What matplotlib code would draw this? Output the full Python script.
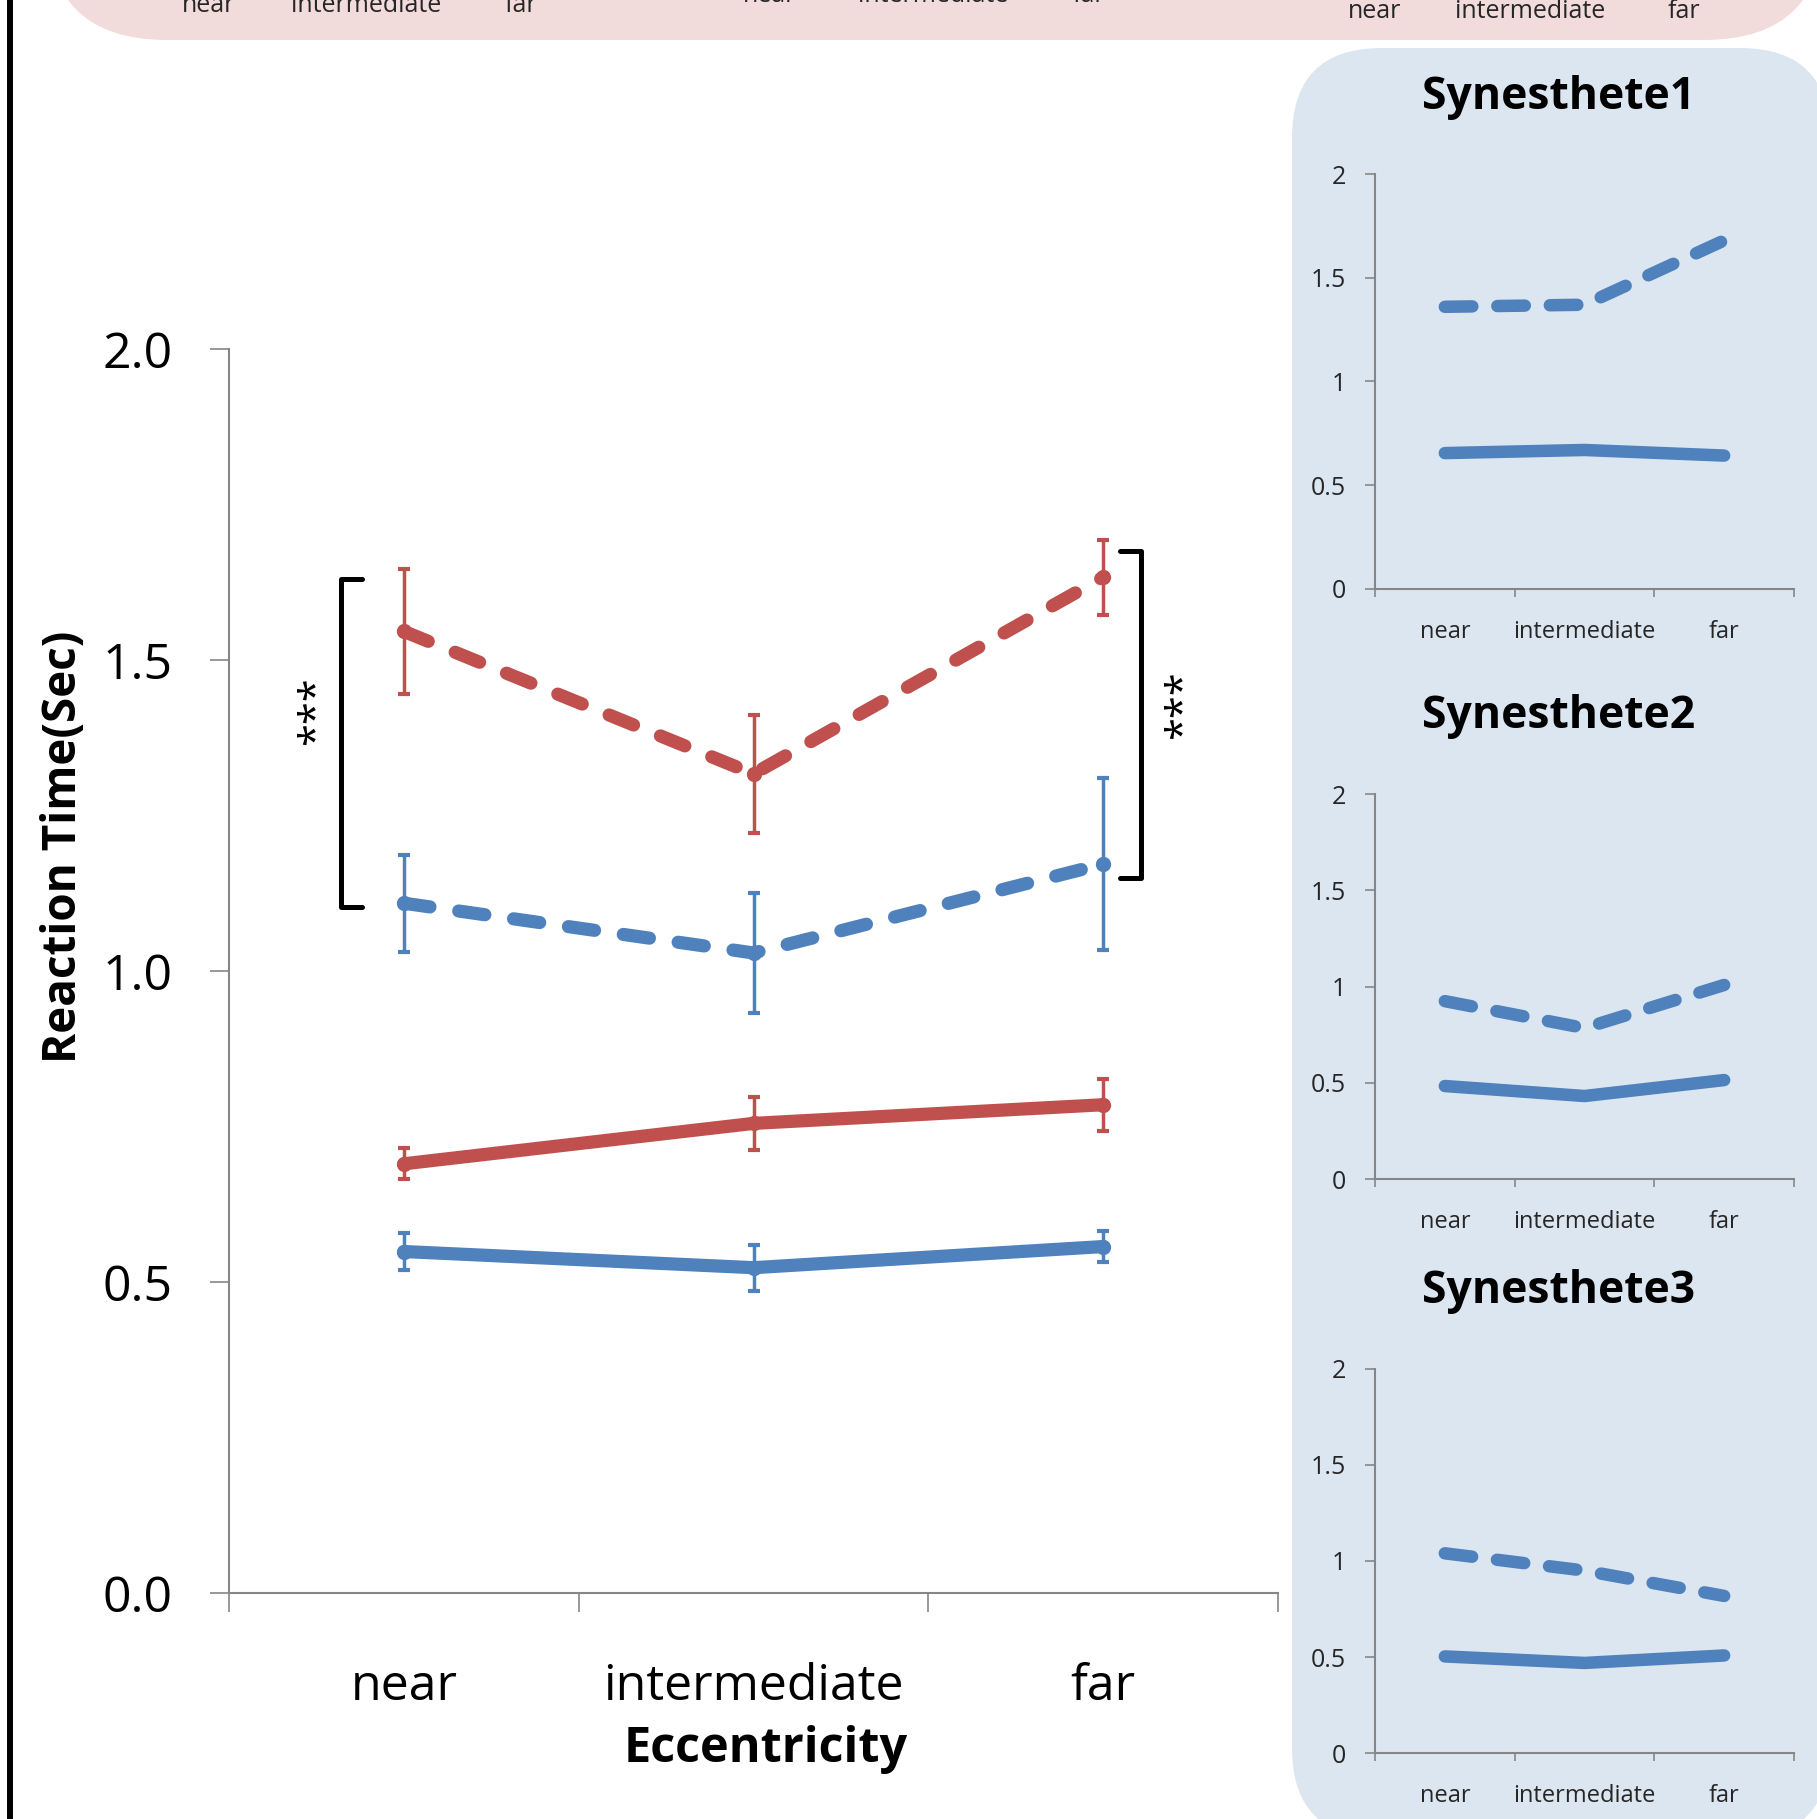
import matplotlib.pyplot as plt
from matplotlib.patches import FancyBboxPatch

plt.rcParams['font.family'] = ['Open Sans', 'DejaVu Sans']

W, H = 1817, 1819

categories = ['near', 'intermediate', 'far']

# main chart: reaction time (sec) with error bars
red_dash = [1.546, 1.317, 1.633]
red_dash_err = [0.100, 0.095, 0.060]
blue_dash = [1.109, 1.029, 1.172]
blue_dash_err = [0.078, 0.096, 0.139]
red_solid = [0.690, 0.755, 0.785]
red_solid_err = [0.025, 0.042, 0.042]
blue_solid = [0.549, 0.523, 0.557]
blue_solid_err = [0.030, 0.037, 0.025]

# individual synesthetes
syn_titles = ['Synesthete1', 'Synesthete2', 'Synesthete3']
syn_dash = [[1.36, 1.37, 1.68], [0.924, 0.784, 1.008], [1.04, 0.95, 0.818]]
syn_solid = [[0.655, 0.67, 0.643], [0.483, 0.431, 0.514], [0.503, 0.469, 0.508]]

main_ticks = [0.0, 0.5, 1.0, 1.5, 2.0]
main_ticklabels = ['0.0', '0.5', '1.0', '1.5', '2.0']
small_ticks = [0, 0.5, 1, 1.5, 2]
small_ticklabels = ['0', '0.5', '1', '1.5', '2']

RED = '#C0504D'
BLUE = '#4F81BD'
GRAY = '#868686'
PINK = '#F2DCDB'
LIGHTBLUE = '#DCE6F1'


def box(x0, y0, x1, y1):
	return [x0 / W, 1 - y1 / H, (x1 - x0) / W, (y1 - y0) / H]


fig = plt.figure(figsize=(W / 100, H / 100), dpi=100)

# background layer in pixel coordinates
bg = fig.add_axes([0, 0, 1, 1])
bg.set_xlim(0, W)
bg.set_ylim(H, 0)
bg.axis('off')
bg.set_zorder(-1)

bg.add_patch(FancyBboxPatch((46, -400), 1825 - 46, 440,
                            boxstyle='round,pad=0,rounding_size=121',
                            fc=PINK, ec='none'))
bg.add_patch(FancyBboxPatch((1292, 48), 1830 - 1292, 1838 - 48,
                            boxstyle='round,pad=0,rounding_size=90',
                            fc=LIGHTBLUE, ec='none'))
bg.plot([10, 10], [0, H], color='black', lw=4.3, solid_capstyle='butt')

# cut-off labels of the panel above
top_labels = [(209, 12), (366, 12), (521, 12),
              (770, 2), (933, 2), (1089, 2),
              (1375, 18), (1530, 18), (1684, 18)]
for i, (x, y) in enumerate(top_labels):
	bg.text(x, y, categories[i % 3], ha='center', va='baseline',
	        fontsize=18, color='#262626')

# ---- main chart ----
ax = fig.add_axes(box(229, 349, 1278, 1593))
ax.set_facecolor('none')
xs = range(len(categories))

err_kw = dict(fmt='none', elinewidth=2.5, capsize=4.5, capthick=3, zorder=2)
line_kw = dict(lw=9.5, marker='o', ms=10, zorder=3,
               solid_capstyle='round', dash_capstyle='round')
ax.errorbar(xs, red_dash, yerr=red_dash_err, ecolor=RED, **err_kw)
ax.errorbar(xs, blue_dash, yerr=blue_dash_err, ecolor=BLUE, **err_kw)
ax.errorbar(xs, red_solid, yerr=red_solid_err, ecolor=RED, **err_kw)
ax.errorbar(xs, blue_solid, yerr=blue_solid_err, ecolor=BLUE, **err_kw)
ax.plot(xs, red_dash, color=RED, dashes=(2.0, 2.2), **line_kw)
ax.plot(xs, blue_dash, color=BLUE, dashes=(2.0, 2.2), **line_kw)
ax.plot(xs, red_solid, color=RED, **line_kw)
ax.plot(xs, blue_solid, color=BLUE, **line_kw)

ax.set_xlim(-0.5, 2.5)
ax.set_ylim(0, 2.0)
ax.set_yticks(main_ticks)
ax.set_yticklabels(main_ticklabels)
ax.set_xticks([-0.5, 0.5, 1.5, 2.5])
ax.set_xticklabels([])
ax.set_xticks(list(xs), minor=True)
ax.set_xticklabels(categories, minor=True)
ax.tick_params(axis='y', length=13.7, width=1.2, color=GRAY, pad=27,
               labelsize=36)
ax.tick_params(axis='x', which='major', length=13.7, width=1.2, color=GRAY)
ax.tick_params(axis='x', which='minor', length=0, pad=50, labelsize=36)
for s in ['top', 'right']:
	ax.spines[s].set_visible(False)
for s in ['left', 'bottom']:
	ax.spines[s].set_color(GRAY)
	ax.spines[s].set_linewidth(1.5)

# significance brackets
br_kw = dict(color='black', lw=3.6, clip_on=False, solid_joinstyle='round',
             solid_capstyle='round')
ax.plot([-0.120, -0.180, -0.180, -0.120], [1.630, 1.630, 1.103, 1.103], **br_kw)
ax.plot([2.048, 2.108, 2.108, 2.048], [1.675, 1.675, 1.150, 1.150], **br_kw)
ax.text(-0.250, 1.418, '***', rotation=90, ha='center', va='center',
        fontsize=30)
ax.text(2.230, 1.428, '***', rotation=90, ha='center', va='center',
        fontsize=30)

fig.text(64 / W, 1 - 847 / H, 'Reaction Time(Sec)', rotation=90,
         ha='center', va='center', fontsize=33, fontweight='bold')
fig.text(766 / W, 1 - 1749 / H, 'Eccentricity', ha='center', va='center',
         fontsize=35, fontweight='bold')

# ---- synesthete panels ----
panel_y = [(174, 589), (794, 1179), (1369, 1753)]
title_y = [97, 716, 1292]
for i, (y0, y1) in enumerate(panel_y):
	sa = fig.add_axes(box(1375, y0, 1794, y1))
	sa.set_facecolor('none')
	sa.plot(xs, syn_dash[i], color=BLUE, lw=9, dashes=(2.2, 2.0),
	        dash_capstyle='round')
	sa.plot(xs, syn_solid[i], color=BLUE, lw=9, solid_capstyle='round')
	sa.set_xlim(-0.5, 2.5)
	sa.set_ylim(0, 2)
	sa.set_yticks(small_ticks)
	sa.set_yticklabels(small_ticklabels)
	sa.set_xticks([-0.5, 0.5, 1.5, 2.5])
	sa.set_xticklabels([])
	sa.set_xticks(list(xs), minor=True)
	sa.set_xticklabels(categories, minor=True)
	sa.tick_params(axis='y', length=7, width=1.2, color=GRAY, pad=14,
	               labelsize=18, labelcolor='#262626')
	sa.tick_params(axis='x', which='major', length=6, width=1.2, color=GRAY)
	sa.tick_params(axis='x', which='minor', length=0, pad=22, labelsize=17,
	               labelcolor='#262626')
	for s in ['top', 'right']:
		sa.spines[s].set_visible(False)
	for s in ['left', 'bottom']:
		sa.spines[s].set_color(GRAY)
		sa.spines[s].set_linewidth(1.5)
	fig.text(1559 / W, 1 - title_y[i] / H, syn_titles[i], ha='center',
	         va='center', fontsize=32, fontweight='bold')

fig.savefig('out.png', dpi=100)
